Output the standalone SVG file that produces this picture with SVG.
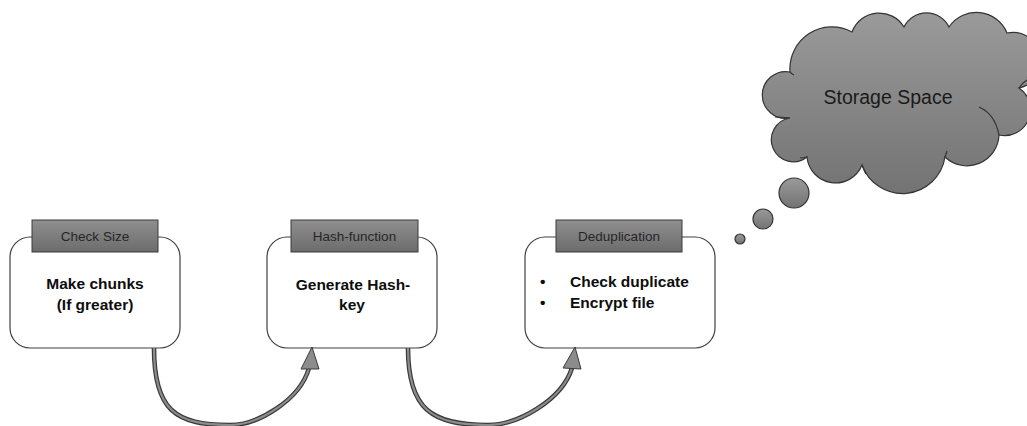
<svg xmlns="http://www.w3.org/2000/svg" width="1027" height="426" viewBox="0 0 1027 426">
  <style>
    .box { fill: #ffffff; stroke: #404040; stroke-width: 1.2; }
    .tab { fill: url(#tabFill); stroke: #3a3a3a; stroke-width: 1; }
    .tabText { font-family: "Liberation Sans", Arial, sans-serif; font-size: 13.5px; fill: #262626; text-anchor: middle; }
    .body { font-family: "Liberation Sans", Arial, sans-serif; font-size: 15.5px; font-weight: bold; fill: #0d0d0d; }
    .mid { text-anchor: middle; }
    .bandOuter { fill: none; stroke: #3a3a3a; stroke-width: 4.6; }
    .bandInner { fill: none; stroke: #8c8c8c; stroke-width: 2.2; }
    .head { fill: #8c8c8c; stroke: #3a3a3a; stroke-width: 1; stroke-linejoin: miter; }
    .cloud { fill: url(#cloudFill); stroke: #333333; stroke-width: 1.2; }
    .cloudLine { fill: none; stroke: #333333; stroke-width: 1.2; }
    .cloudText { font-family: "Liberation Sans", Arial, sans-serif; font-size: 19.5px; fill: #1a1a1a; text-anchor: middle; }
  </style>
  <defs>
    <linearGradient id="tabFill" x1="0" y1="0" x2="0" y2="1">
      <stop offset="0" stop-color="#8f8f8f"/>
      <stop offset="1" stop-color="#6c6c6c"/>
    </linearGradient>
    <linearGradient id="cloudFill" x1="0" y1="0" x2="0" y2="1">
      <stop offset="0" stop-color="#9a9a9a"/>
      <stop offset="1" stop-color="#737373"/>
    </linearGradient>
  </defs>
  <rect width="1027" height="426" fill="#ffffff"/>

  <!-- step 1 -->
  <g id="check-size">
    <rect class="box" x="10" y="237" width="170" height="111" rx="20" ry="20"/>
    <rect class="tab" x="32" y="220" width="126" height="32"/>
    <text class="tabText" x="95" y="241">Check Size</text>
    <text class="body mid" x="95" y="289">Make chunks</text>
    <text class="body mid" x="95" y="310">(If greater)</text>
  </g>

  <!-- step 2 -->
  <g id="hash-function">
    <rect class="box" x="267" y="237" width="170" height="111" rx="20" ry="20"/>
    <rect class="tab" x="291" y="220" width="127" height="32"/>
    <text class="tabText" x="354.5" y="241">Hash-function</text>
    <text class="body mid" x="353" y="290">Generate Hash-</text>
    <text class="body mid" x="352" y="310">key</text>
  </g>

  <!-- step 3 -->
  <g id="deduplication">
    <rect class="box" x="525" y="237" width="190" height="111" rx="20" ry="20"/>
    <rect class="tab" x="556" y="220" width="126" height="32"/>
    <text class="tabText" x="619" y="241">Deduplication</text>
    <text class="body" x="540" y="287">•</text>
    <text class="body" x="570" y="287">Check duplicate</text>
    <text class="body" x="540" y="308">•</text>
    <text class="body" x="570" y="308">Encrypt file</text>
  </g>

  <!-- storage cloud with thought bubbles -->
  <g id="storage-space">
    <path class="cloud" d="M790,72
      A42,42 0 0 1 852,32
      A29,29 0 0 1 904,27
      A25,25 0 0 1 949,27
      A33,33 0 0 1 1007,33
      A28,28 0 0 1 1019,88
      A26,26 0 0 1 999,135
      A32,32 0 0 1 945,157
      A43,43 0 0 1 862,165
      A28.6,28.6 0 0 1 807,157
      A22,22 0 1 1 790,118
      A23.4,23.4 0 1 1 790,72 Z"/>
    <path class="cloudLine" d="M999,135 Q995,114 979,107"/>
    <path class="cloudLine" d="M1019,88 Q1022,83 1027,80"/>
    <path class="cloudLine" d="M790,118 Q782,117 775,117"/>
    <path class="cloudLine" d="M862,165 Q864,170 866,174"/>
    <path class="cloudLine" d="M807,157 Q803,158 800,158"/>
    <path class="cloudLine" d="M790,72 Q792,74 794,75"/>
    <path class="cloudLine" d="M945,157 Q946,154 947,151"/>
    <text class="cloudText" x="888" y="104">Storage Space</text>
    <circle class="cloud" cx="794" cy="193" r="15"/>
    <circle class="cloud" cx="763" cy="219" r="10"/>
    <circle class="cloud" cx="740" cy="239" r="5"/>
  </g>

  <!-- curved arrows between the steps -->
  <g id="connectors">
    <g id="arrow-1">
      <path class="bandOuter" d="M154,348 C154,410 175,425 230,425 C258,425 300,400 309,368"/>
      <path class="bandInner" d="M154,348 C154,410 175,425 230,425 C258,425 300,400 309,368"/>
      <polygon class="head" points="312,347 319,369 301,369"/>
    </g>
    <g id="arrow-2">
      <path class="bandOuter" d="M408,348 C408,410 432,425 488,425 C518,425 562,400 572,368"/>
      <path class="bandInner" d="M408,348 C408,410 432,425 488,425 C518,425 562,400 572,368"/>
      <polygon class="head" points="575,347 581,369 563,368"/>
    </g>
  </g>
</svg>
